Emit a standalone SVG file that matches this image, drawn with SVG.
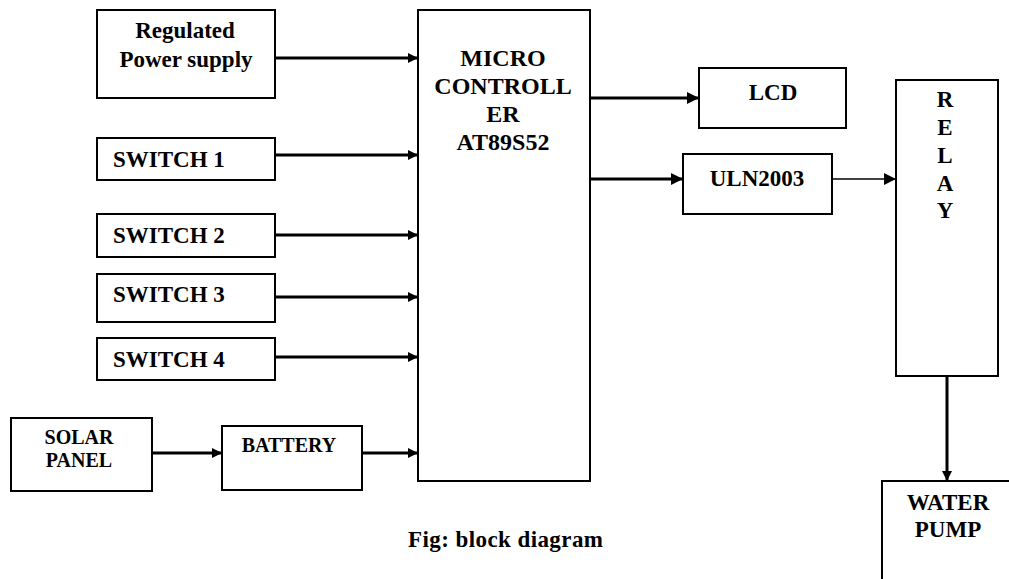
<svg xmlns="http://www.w3.org/2000/svg" width="1009" height="579" viewBox="0 0 1009 579">
<style>
.box{fill:#fff;stroke:#000;stroke-width:2}
.t{font-family:"Liberation Serif","Times New Roman",serif;font-weight:bold;font-size:23px;fill:#000;text-anchor:middle}
.tl{text-anchor:start}
.s{font-size:20px}
.m{font-size:24px}
.w{stroke:#000;stroke-width:3;fill:none}
.n{stroke:#000;stroke-width:1.5;fill:none}
</style>
<defs>
<marker id="ah" viewBox="0 0 10 10" refX="10" refY="5" markerWidth="10" markerHeight="10" markerUnits="userSpaceOnUse" orient="auto">
<path d="M0,0 L10,5 L0,10 Z" fill="#000"/>
</marker>
<marker id="ahs" viewBox="0 0 10 10" refX="10" refY="5" markerWidth="12" markerHeight="12" markerUnits="userSpaceOnUse" orient="auto">
<path d="M0,0 L10,5 L0,10 Z" fill="#000"/>
</marker>
</defs>
<rect width="1009" height="579" fill="#fff"/>
<g id="connectors">
<line class="w" x1="275" y1="58" x2="418" y2="58" marker-end="url(#ah)"/>
<line class="w" x1="275" y1="155" x2="418" y2="155" marker-end="url(#ah)"/>
<line class="w" x1="275" y1="235" x2="418" y2="235" marker-end="url(#ah)"/>
<line class="w" x1="275" y1="297" x2="418" y2="297" marker-end="url(#ah)"/>
<line class="w" x1="275" y1="357" x2="418" y2="357" marker-end="url(#ah)"/>
<line class="w" x1="152" y1="453" x2="222" y2="453" marker-end="url(#ah)"/>
<line class="w" x1="362" y1="453" x2="418" y2="453" marker-end="url(#ah)"/>
<line class="w" x1="590" y1="98" x2="699" y2="98" marker-end="url(#ahs)"/>
<line class="w" x1="590" y1="179" x2="683" y2="179" marker-end="url(#ahs)"/>
<line class="n" x1="832" y1="179" x2="896" y2="179" marker-end="url(#ahs)"/>
<line class="w" x1="947" y1="376" x2="947" y2="481" marker-end="url(#ah)"/>
</g>
<g id="power"><rect class="box" x="97" y="10" width="178" height="88"/>
<text class="t" x="185" y="38">Regulated</text><text class="t" x="186" y="67">Power supply</text></g>
<g id="sw1"><rect class="box" x="97" y="138" width="178" height="42"/><text class="t tl" x="113" y="167">SWITCH 1</text></g>
<g id="sw2"><rect class="box" x="97" y="214" width="178" height="43"/><text class="t tl" x="113" y="243">SWITCH 2</text></g>
<g id="sw3"><rect class="box" x="97" y="274" width="178" height="48"/><text class="t tl" x="113" y="302">SWITCH 3</text></g>
<g id="sw4"><rect class="box" x="97" y="338" width="178" height="42"/><text class="t tl" x="113" y="367">SWITCH 4</text></g>
<g id="solar"><rect class="box" x="11" y="418" width="141" height="73"/>
<text class="t s" x="79" y="444">SOLAR</text><text class="t s" x="79" y="467">PANEL</text></g>
<g id="battery"><rect class="box" x="222" y="426" width="140" height="64"/><text class="t s" x="289" y="452">BATTERY</text></g>
<g id="mcu"><rect class="box" x="418" y="10" width="172" height="471"/>
<text class="t m" x="503" y="66">MICRO</text><text class="t m" x="503" y="94">CONTROLL</text>
<text class="t m" x="503" y="122">ER</text><text class="t m" x="503" y="150">AT89S52</text></g>
<g id="lcd"><rect class="box" x="699" y="68" width="147" height="60"/><text class="t" x="773" y="100">LCD</text></g>
<g id="uln"><rect class="box" x="683" y="154" width="149" height="60"/><text class="t" x="757" y="186">ULN2003</text></g>
<g id="relay"><rect class="box" x="896" y="80" width="102" height="296"/>
<text class="t" x="945" y="107">R</text><text class="t" x="945" y="135">E</text><text class="t" x="945" y="163">L</text>
<text class="t" x="945" y="191">A</text><text class="t" x="945" y="218">Y</text></g>
<g id="pump"><rect class="box" x="882" y="481" width="140" height="110"/>
<text class="t" x="948" y="510">WATER</text><text class="t" x="948" y="537">PUMP</text></g>
<text class="t tl" x="408" y="547" font-size="20" textLength="195">Fig: block diagram</text>
</svg>
